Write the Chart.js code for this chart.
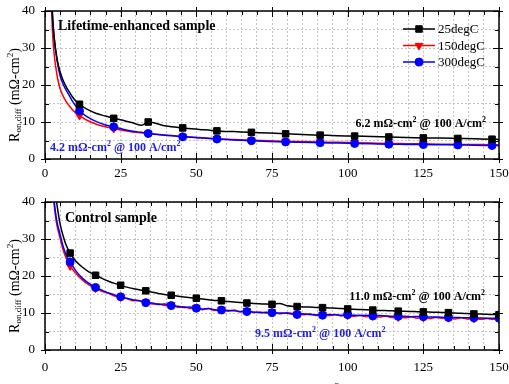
<!DOCTYPE html>
<html>
<head>
<meta charset="utf-8">
<script src="https://cdn.jsdelivr.net/npm/chart.js@4.4.0/dist/chart.umd.min.js"></script>
<style>
html, body { margin: 0; padding: 0; width: 509px; height: 384px; overflow: hidden; background: #fff; }
canvas { position: absolute; left: 0; }
#chart1 { top: 0; }
#chart2 { top: 190px; }
</style>
</head>
<body>
<canvas id="chart1" width="509" height="190"></canvas>
<canvas id="chart2" width="509" height="214"></canvas>
<script>
const seriesNames = ['25degC', '150degC', '300degC'];
const xTicks = [0, 25, 50, 75, 100, 125, 150];
const yTicks = [0, 10, 20, 30, 40];

// Lifetime-enhanced sample
const topX = [2, 2.5, 3, 4, 5, 6, 7, 8, 9, 10,
    11.4, 14, 17, 20, 22.7, 26, 29, 31.9, 34.1, 40,
    45.5, 51, 56.8, 62.5, 68.2, 74, 79.5, 85, 90.9, 96.5,
    102.3, 108, 113.6, 119.3, 125, 130.7, 136.4, 142, 147.7, 150];
const top25 = [46, 38, 33, 27, 23.5, 21.2, 19.5, 18.2, 16.9, 15.8,
    14.8, 13.4, 12.3, 11.6, 11.0, 10.4, 9.8, 9.1, 10.0, 8.9,
    8.4, 8.0, 7.6, 7.4, 7.2, 7.0, 6.8, 6.6, 6.45, 6.3,
    6.2, 6.05, 5.95, 5.8, 5.7, 5.65, 5.55, 5.45, 5.35, 5.3];
const top150 = [44, 34, 28.5, 22.5, 19.0, 17.0, 15.5, 14.4, 13.4, 12.6,
    11.7, 10.4, 9.4, 8.7, 8.2, 7.7, 7.3, 7.1, 6.9, 6.45,
    6.05, 5.8, 5.5, 5.3, 5.1, 4.95, 4.8, 4.7, 4.6, 4.5,
    4.4, 4.3, 4.2, 4.15, 4.1, 4.0, 3.95, 3.9, 3.85, 3.8];
const top300 = [48, 39, 33, 26.5, 22.5, 20.2, 18.6, 17.2, 15.7, 14.5,
    13.0, 11.4, 10.1, 9.2, 8.7, 8.0, 7.5, 7.2, 6.9, 6.4,
    6.0, 5.7, 5.4, 5.15, 4.95, 4.75, 4.6, 4.5, 4.4, 4.3,
    4.2, 4.1, 4.0, 3.95, 3.9, 3.85, 3.8, 3.7, 3.65, 3.6];
const topMarkX = [11.4, 22.7, 34.1, 45.5, 56.8, 68.2, 79.5, 90.9, 102.3, 113.6, 125, 136.4, 147.7];

// Control sample
const ctrlX = [2.5, 3, 3.5, 4, 5, 6, 7, 8.3, 10, 12.5,
    14.5, 16.7, 19, 21, 23, 25, 27, 29, 31, 33.3,
    35.5, 37.5, 39.5, 41.7, 44, 46, 48, 50, 52, 54,
    56, 58.3, 60.5, 62.5, 64.5, 66.7, 69, 71, 73, 75,
    77.5, 80, 83.3, 85.5, 87.5, 89.5, 91.7, 94, 96, 98,
    100, 102, 104, 106, 108.3, 110.5, 112.5, 114.5, 116.7, 119,
    121, 123, 125, 127, 129, 131, 133.3, 135.5, 137.5, 139.5,
    141.7, 144, 146, 148, 150];
const ctrl25 = [52, 46, 42, 39, 34, 30.8, 28.3, 26.2, 24.2, 22.3,
    21.1, 20.2, 19.3, 18.6, 18.0, 17.5, 17.0, 16.6, 16.3, 16.0,
    15.6, 15.3, 15.0, 14.8, 14.5, 14.3, 14.1, 14.0, 13.8, 13.6,
    13.4, 13.3, 13.1, 13.0, 12.85, 12.7, 12.6, 12.5, 12.4, 12.35,
    12.6, 11.95, 11.75, 11.65, 11.6, 11.5, 11.45, 11.35, 11.3, 11.2,
    11.1, 11.0, 10.95, 10.9, 10.8, 10.7, 10.65, 10.6, 10.5, 10.45,
    10.4, 10.35, 10.3, 10.25, 10.2, 10.15, 10.1, 10.0, 9.9, 9.85,
    9.75, 9.7, 9.65, 9.6, 9.55];
const ctrl150 = [45, 39.5, 36, 33.5, 30.2, 27, 24.8, 22.7, 20.9, 18.8,
    17.6, 16.7, 15.8, 15.3, 14.6, 14.3, 14.0, 13.3, 13.4, 12.9,
    12.4, 12.5, 12.0, 12.2, 11.5, 11.7, 11.2, 11.5, 10.9, 11.2,
    10.7, 11.0, 10.5, 10.8, 10.3, 10.6, 10.1, 10.3, 9.9, 10.3,
    9.8, 10.1, 9.7, 9.5, 9.8, 9.3, 9.6, 9.3, 9.6, 9.2,
    9.4, 9.1, 9.4, 9.0, 9.2, 8.9, 9.2, 8.8, 8.9, 8.7,
    9.0, 8.6, 8.8, 8.5, 8.8, 8.6, 8.7, 8.4, 8.7, 8.4,
    8.5, 8.3, 8.5, 8.3, 8.4];
const ctrl300 = [46, 40.5, 37, 34.5, 31.2, 28, 25.7, 23.8, 21.6, 19.3,
    18.0, 16.9, 16.1, 15.4, 14.9, 14.4, 13.9, 13.6, 13.3, 12.8,
    12.7, 12.3, 12.4, 12.0, 11.8, 11.5, 11.6, 11.3, 11.1, 11.2,
    10.9, 10.8, 10.7, 10.6, 10.4, 10.4, 10.3, 10.1, 10.2, 10.1,
    10.0, 9.9, 9.6, 9.8, 9.6, 9.5, 9.4, 9.6, 9.5, 9.4,
    9.55, 9.4, 9.3, 9.4, 9.2, 9.3, 9.2, 9.1, 9.1, 9.15,
    9.0, 9.05, 9.0, 8.9, 8.95, 8.85, 8.8, 8.8, 8.75, 8.7,
    8.7, 8.65, 8.6, 8.6, 8.6];
const ctrlMarkX = [8.3, 16.7, 25, 33.3, 41.7, 50, 58.3, 66.7, 75, 83.3, 91.7, 100, 108.3, 116.7, 125, 133.3, 141.7, 150];

const FONT = "'Liberation Serif', 'Times New Roman', serif";
const colors = ['#000000', '#ff0000', '#0000ff'];
const pStyles = ['rect', 'triangle', 'circle'];
const pRot = [0, 180, 0];
const pRad = [4.6, 4.4, 4];
const drawOrder = [1, 3, 2];
const blueText = '#2222dd';

function makeSets(xs, ys, marks) {
    return ys.map((arr, i) => ({
        label: seriesNames[i],
        data: xs.map((x, j) => ({ x: x, y: arr[j] })),
        borderColor: colors[i],
        backgroundColor: colors[i],
        borderWidth: 1.5,
        order: drawOrder[i],
        pointStyle: pStyles[i],
        pointRotation: pRot[i],
        pointRadius: c => marks.includes(c.raw.x) ? pRad[i] : 0,
        pointBorderWidth: 1,
        cubicInterpolationMode: 'monotone'
    }));
}

// text with sub/superscripts: parts = [[text, 'sup'|'sub'|'']]
function richWidth(ctx, parts, size, weight) {
    let w = 0;
    parts.forEach(p => {
        const s = p[1] ? Math.round(size * 0.65) : size;
        ctx.font = weight + ' ' + s + 'px ' + FONT;
        w += ctx.measureText(p[0]).width;
    });
    return w;
}
function drawRich(ctx, parts, x, y, size, weight, color, align) {
    const w = richWidth(ctx, parts, size, weight);
    let cx = align === 'right' ? x - w : (align === 'center' ? x - w / 2 : x);
    ctx.fillStyle = color;
    ctx.textBaseline = 'alphabetic';
    ctx.textAlign = 'left';
    parts.forEach(p => {
        const s = p[1] ? Math.round(size * 0.65) : size;
        ctx.font = weight + ' ' + s + 'px ' + FONT;
        let dy = 0;
        if (p[1] === 'sup') dy = -size * 0.42;
        if (p[1] === 'sub') dy = size * 0.2;
        ctx.fillText(p[0], cx, y + dy);
        cx += ctx.measureText(p[0]).width;
    });
}

const frameTicks = {
    id: 'frameTicks',
    afterDatasetsDraw(chart) {
        const { ctx, chartArea: a, scales: { x, y } } = chart;
        ctx.save();
        ctx.strokeStyle = '#000';
        ctx.lineWidth = 1;
        ctx.beginPath();
        x.ticks.forEach(t => {
            const px = Math.round(x.getPixelForValue(t.value)) + 0.5;
            const major = xTicks.includes(t.value);
            const inn = major ? 6 : 4, out = major ? 4 : 0;
            ctx.moveTo(px, a.bottom + out); ctx.lineTo(px, a.bottom - inn);
            ctx.moveTo(px, a.top - out); ctx.lineTo(px, a.top + inn);
        });
        y.ticks.forEach(t => {
            const py = Math.round(y.getPixelForValue(t.value)) + 0.5;
            const major = yTicks.includes(t.value);
            const inn = major ? 6 : 4, out = major ? 4 : 0;
            ctx.moveTo(a.left - out, py); ctx.lineTo(a.left + inn, py);
            ctx.moveTo(a.right + out, py); ctx.lineTo(a.right - inn, py);
        });
        ctx.stroke();
        ctx.lineWidth = 1.5;
        ctx.strokeRect(a.left, a.top, a.right - a.left, a.bottom - a.top);
        ctx.restore();
    }
};

const notes = {
    id: 'notes',
    afterDraw(chart, args, opts) {
        const { ctx, scales: { x, y } } = chart;
        ctx.save();
        (opts.items || []).forEach(n => {
            drawRich(ctx, n.parts, x.getPixelForValue(n.x), y.getPixelForValue(n.y) + n.size * 0.35,
                n.size, 'bold', n.color, n.align);
        });
        // y axis title
        const a = chart.chartArea;
        ctx.translate(18.5, (a.top + a.bottom) / 2 + 10);
        ctx.rotate(-Math.PI / 2);
        drawRich(ctx, [['R', ''], ['on,diff', 'sub'], [' (mΩ-cm', ''], ['2', 'sup'], [')', '']],
            0, 0, 14, 'normal', '#000', 'center');
        ctx.restore();
        if (opts.xTitle) {
            ctx.save();
            drawRich(ctx, [['Current density (A/cm', ''], ['2', 'sup'], [')', '']],
                (a.left + a.right) / 2, a.bottom + 46, 15, 'normal', '#000', 'center');
            ctx.restore();
        }
    }
};

const legendBox = {
    id: 'legendBox',
    afterDraw(chart, args, opts) {
        if (!opts.show) return;
        const { ctx, chartArea: a } = chart;
        ctx.save();
        seriesNames.forEach((name, i) => {
            const yy = a.top + 18 + i * 16.5;
            ctx.strokeStyle = colors[i];
            ctx.fillStyle = colors[i];
            ctx.lineWidth = 1.5;
            ctx.beginPath();
            ctx.moveTo(a.right - 96, yy); ctx.lineTo(a.right - 64, yy);
            ctx.stroke();
            ctx.lineWidth = 1;
            Chart.helpers.drawPoint(ctx, { pointStyle: pStyles[i], rotation: pRot[i], radius: pRad[i], borderWidth: 1 }, a.right - 80, yy);
            ctx.fillStyle = '#000';
            ctx.font = '13px ' + FONT;
            ctx.textAlign = 'left';
            ctx.textBaseline = 'middle';
            ctx.fillText(name, a.right - 61, yy + 1);
        });
        ctx.restore();
    }
};

function makeChart(id, xs, ys, marks, topPad, xAxisH, labelPad, noteItems, showLegend, xTitle) {
    return new Chart(document.getElementById(id), {
        type: 'line',
        data: { datasets: makeSets(xs, ys, marks) },
        options: {
            responsive: false,
            animation: false,
            layout: { padding: { top: topPad, right: 10, left: 0, bottom: 0 } },
            plugins: {
                legend: { display: false },
                tooltip: { enabled: false },
                notes: { items: noteItems, xTitle: xTitle },
                legendBox: { show: showLegend }
            },
            scales: {
                x: {
                    type: 'linear', min: 0, max: 150,
                    afterFit: s => { s.height = xAxisH; s.paddingLeft = 0; s.paddingRight = 0; },
                    ticks: {
                        stepSize: 5, autoSkip: false, maxRotation: 0, padding: labelPad,
                        color: '#000', font: { family: FONT, size: 13 },
                        callback: v => xTicks.includes(v) ? v : ''
                    },
                    grid: { color: '#c4c4c4', drawTicks: false, lineWidth: 1 },
                    border: { display: false, dash: [2, 2] }
                },
                y: {
                    type: 'linear', min: 0, max: 40,
                    afterFit: s => { s.width = 45; s.paddingTop = 0; s.paddingBottom = 0; },
                    ticks: {
                        stepSize: 5, autoSkip: false, padding: 10,
                        color: '#000', font: { family: FONT, size: 13 },
                        callback: v => yTicks.includes(v) ? v : ''
                    },
                    grid: { color: '#c4c4c4', drawTicks: false, lineWidth: 1 },
                    border: { display: false, dash: [2, 2] }
                }
            }
        },
        plugins: [frameTicks, notes, legendBox]
    });
}

const sup2 = ['2', 'sup'];
makeChart('chart1', topX, [top25, top150, top300], topMarkX, 11, 31, 7, [
    { parts: [['Lifetime-enhanced sample', '']], x: 4.3, y: 36.2, size: 14, color: '#000', align: 'left' },
    { parts: [['4.2 mΩ-cm', ''], sup2, [' @ 100 A/cm', ''], sup2], x: 1.65, y: 3.2, size: 12, color: blueText, align: 'left' },
    { parts: [['6.2 mΩ-cm', ''], sup2, [' @ 100 A/cm', ''], sup2], x: 145.7, y: 9.7, size: 12, color: '#000', align: 'right' }
], true, false);

makeChart('chart2', ctrlX, [ctrl25, ctrl150, ctrl300], ctrlMarkX, 12, 54, 10, [
    { parts: [['Control sample', '']], x: 6.6, y: 35.9, size: 14, color: '#000', align: 'left' },
    { parts: [['11.0 mΩ-cm', ''], sup2, [' @ 100 A/cm', ''], sup2], x: 145.4, y: 14.6, size: 12, color: '#000', align: 'right' },
    { parts: [['9.5 mΩ-cm', ''], sup2, [' @ 100 A/cm', ''], sup2], x: 69.4, y: 4.6, size: 12, color: blueText, align: 'left' }
], false, true);
</script>
</body>
</html>
